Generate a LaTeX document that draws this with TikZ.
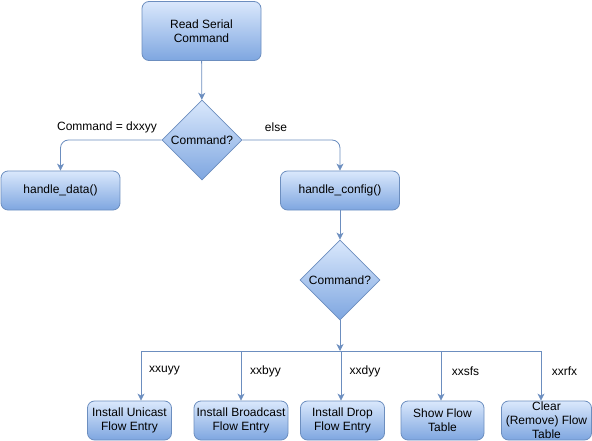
\documentclass[tikz,border=0pt]{standalone}
\usepackage{fontspec}
\setmainfont{Liberation Sans}
\usetikzlibrary{shapes.geometric,arrows.meta}
\definecolor{edgeblue}{HTML}{6C8EBF}
\definecolor{topblue}{HTML}{DAE8FC}
\definecolor{botblue}{HTML}{7EA6E0}

\begin{document}
\begin{tikzpicture}[x=1pt,y=-1pt,
  every node/.style={font=\fontsize{12}{14}\selectfont},
  box/.style={draw=edgeblue, line width=0.8pt, rounded corners=7pt,
    shading=axis, top color=topblue, bottom color=botblue,
    align=center, inner sep=1pt, minimum height=39pt},
  decision/.style={diamond, draw=edgeblue, line width=0.8pt,
    shading=axis, top color=topblue, bottom color=botblue,
    inner sep=0pt, minimum size=80pt},
  arrow/.style={draw=edgeblue, line width=0.8pt,
    -{Stealth[length=7pt,width=7pt,inset=2pt]}},
  link/.style={draw=edgeblue, line width=0.8pt}]
\useasboundingbox (0,0) rectangle (592,441);

% Top of the flow
\node[box, minimum width=119pt, minimum height=59pt] (read) at (201.5,31) {Read Serial\\Command};
\node[decision] (dec1) at (202,140) {Command?};
\node[box, minimum width=119pt] (data) at (60.5,190.5) {handle\_data()};
\node[box, minimum width=119pt] (config) at (340,190.5) {handle\_config()};
\node[decision] (dec2) at (340,280) {Command?};

\draw[arrow] (read) -- (dec1);
\draw[arrow, rounded corners=8pt] (dec1.west) -| (data.north);
\draw[arrow, rounded corners=8pt] (dec1.east) -| (config.north);
\node (lbldata) at (107,127) {Command = dxxyy};
\node (lblelse) at (276,127) {else};
\draw[arrow] (config) -- (dec2);

% Command table
\node[box, minimum width=84pt] (uni) at (129.5,420.5) {Install Unicast\\Flow Entry};
\node[box, minimum width=94pt] (broad) at (241,420.5) {Install Broadcast\\Flow Entry};
\node[box, minimum width=84pt] (drop) at (342.5,420.5) {Install Drop\\Flow Entry};
\node[box, minimum width=83pt] (show) at (442.5,420.5) {Show Flow\\Table};
\node[box, minimum width=90pt] (clear) at (546.5,420.5) {Clear\\(Remove) Flow\\Table};

\coordinate (bus) at (341,351);
\coordinate (t1) at (141,351);
\coordinate (t2) at (241,351);
\coordinate (t3) at (341,351);
\coordinate (t4) at (441,351);
\coordinate (t5) at (541,351);

\draw[arrow] (dec2.south) -- (dec2.south |- bus);
\draw[link] (t1) -- (t5);
\draw[arrow] (t1) -- (t1 |- uni.north);
\draw[arrow] (t2) -- (t2 |- broad.north);
\draw[arrow] (t3) -- (t3 |- drop.north);
\draw[arrow] (t4) -- (t4 |- show.north);
\draw[arrow] (t5) -- (t5 |- clear.north);

\node (lbluni) at (164.5,371) {xxuyy};
\node (lblbroad) at (265.5,371) {xxbyy};
\node (lbldrop) at (365,371) {xxdyy};
\node (lblshow) at (465.5,371) {xxsfs};
\node (lblclear) at (564.5,371) {xxrfx};
\end{tikzpicture}
\end{document}
